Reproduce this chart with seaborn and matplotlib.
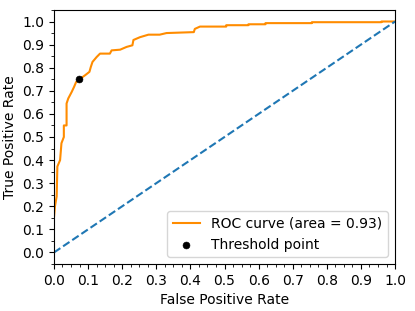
import numpy as np
import pandas as pd
import seaborn as sns
import matplotlib
matplotlib.use("Agg")
import matplotlib.pyplot as plt
from matplotlib.ticker import MultipleLocator

# ROC curve points (fpr, tpr)
fpr = [0.0, 0.0, 0.003, 0.008, 0.010, 0.018, 0.022, 0.029, 0.029, 0.037, 0.037,
       0.042, 0.052, 0.059, 0.065, 0.074, 0.091, 0.104, 0.108, 0.113, 0.125,
       0.135, 0.164, 0.169, 0.194, 0.213, 0.230, 0.233, 0.252, 0.277, 0.310,
       0.330, 0.410, 0.413, 0.428, 0.505, 0.505, 0.570, 0.570, 0.620, 0.620,
       0.756, 0.756, 0.960, 0.960, 1.0]
tpr = [0.0, 0.150, 0.200, 0.243, 0.372, 0.400, 0.473, 0.500, 0.550, 0.550, 0.645,
       0.667, 0.695, 0.717, 0.738, 0.749, 0.767, 0.782, 0.803, 0.825, 0.846,
       0.861, 0.861, 0.875, 0.878, 0.890, 0.897, 0.920, 0.932, 0.943, 0.943,
       0.950, 0.954, 0.968, 0.978, 0.978, 0.984, 0.984, 0.988, 0.988, 0.993,
       0.993, 0.997, 0.997, 1.0, 1.0]
roc_auc = 0.93

diag = [0.0, 1.0]
thresh_fpr = [0.074]
thresh_tpr = [0.749]

fig = plt.figure(figsize=(4.15, 3.11), dpi=100)
ax = fig.add_axes([0.130, 0.151, 0.822, 0.817])

sns.lineplot(x=fpr, y=tpr, sort=False, estimator=None, color='darkorange', lw=1.5,
             label=f'ROC curve (area = {roc_auc:.2f})', ax=ax)
sns.lineplot(x=diag, y=diag, color='#1f77b4', lw=1.5, linestyle='--', ax=ax)
sns.scatterplot(x=thresh_fpr, y=thresh_tpr, color='black', s=25, edgecolor='black',
                label='Threshold point', zorder=5, ax=ax)

ax.set_xlim(0.0, 1.0)
ax.set_ylim(-0.05, 1.05)
ax.xaxis.set_major_locator(MultipleLocator(0.1))
ax.yaxis.set_major_locator(MultipleLocator(0.1))
ax.xaxis.set_minor_locator(MultipleLocator(0.025))
ax.yaxis.set_minor_locator(MultipleLocator(0.05))
ax.tick_params(labelsize=10)
ax.set_xlabel('False Positive Rate', fontsize=10)
ax.set_ylabel('True Positive Rate', fontsize=10)
ax.legend(loc='lower right', fontsize=10)

fig.savefig('out.png', dpi=100)
